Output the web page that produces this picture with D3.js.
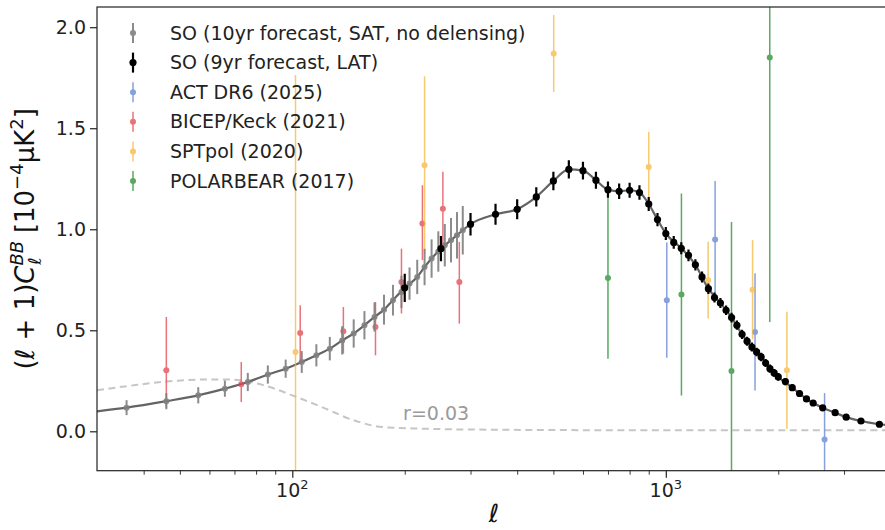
<!DOCTYPE html>
<html>
<head>
<meta charset="utf-8">
<script src="https://cdn.jsdelivr.net/npm/d3@7"></script>
<style>
  body { margin: 0; background: #fff; }
  text { font-family: "DejaVu Sans", sans-serif; }
</style>
</head>
<body>
<svg id="chart" width="885" height="530"></svg>
<script>
/* ---------- datos ---------- */

// SO SAT (10 años, sin delensing)
const SAT_L   = [36, 46, 56, 66, 76, 86, 96, 106, 116, 126, 136, 146, 156, 166, 176, 186, 196, 206, 216, 226, 236, 246, 256, 266, 276, 286];
const SAT_D   = [0.117, 0.149, 0.178, 0.211, 0.244, 0.281, 0.310, 0.343, 0.376, 0.409, 0.450, 0.484, 0.525, 0.566, 0.602, 0.649, 0.690, 0.731, 0.764, 0.813, 0.855, 0.890, 0.921, 0.946, 0.970, 0.995];
const SAT_ERR = [0.037, 0.040, 0.040, 0.040, 0.045, 0.045, 0.045, 0.054, 0.055, 0.058, 0.070, 0.070, 0.070, 0.072, 0.074, 0.076, 0.080, 0.080, 0.085, 0.090, 0.095, 0.100, 0.105, 0.110, 0.115, 0.120];

// SO LAT (9 años)
const LAT_L   = [200, 250, 300, 350, 400, 450, 500, 550, 600, 650, 700, 750, 800, 850, 900, 950, 1000, 1050, 1100, 1150, 1200, 1250, 1300, 1350, 1400, 1450, 1500, 1550, 1600, 1650, 1700, 1750, 1800, 1850, 1900, 1950, 2000, 2090, 2180, 2280, 2380, 2480, 2630, 2840, 3040, 3330, 3730];
const LAT_D   = [0.710, 0.904, 1.025, 1.074, 1.099, 1.160, 1.239, 1.296, 1.290, 1.243, 1.196, 1.188, 1.193, 1.182, 1.125, 1.048, 0.979, 0.935, 0.906, 0.871, 0.824, 0.764, 0.706, 0.662, 0.635, 0.599, 0.563, 0.525, 0.480, 0.446, 0.417, 0.393, 0.368, 0.338, 0.310, 0.289, 0.269, 0.246, 0.216, 0.187, 0.160, 0.140, 0.116, 0.092, 0.070, 0.051, 0.035];
const LAT_ERR = [0.070, 0.062, 0.056, 0.052, 0.050, 0.048, 0.046, 0.045, 0.044, 0.042, 0.040, 0.038, 0.037, 0.036, 0.035, 0.033, 0.032, 0.031, 0.030, 0.029, 0.028, 0.027, 0.026, 0.025, 0.025, 0.024, 0.024, 0.023, 0.023, 0.022, 0.022, 0.021, 0.021, 0.020, 0.020, 0.019, 0.019, 0.018, 0.017, 0.016, 0.015, 0.015, 0.014, 0.013, 0.012, 0.012, 0.011];

// ACT DR6 (2025)
const ACT_L   = [1006, 1355, 1733, 2661];
const ACT_D   = [0.649, 0.949, 0.492, -0.041];
const ACT_ERR = [0.285, 0.290, 0.290, 0.230];

// BICEP/Keck (2021) – barras asimétricas
const BK_L      = [46, 73, 105, 137, 167, 196, 223, 253, 280];
const BK_D      = [0.302, 0.233, 0.487, 0.495, 0.516, 0.739, 1.028, 1.102, 0.739];
const BK_ERR_LO = [0.185, 0.088, 0.152, 0.110, 0.140, 0.156, 0.181, 0.206, 0.206];
const BK_ERR_HI = [0.264, 0.110, 0.137, 0.120, 0.124, 0.165, 0.190, 0.182, 0.198];

// SPTpol (2020)
const SPT_L   = [102, 226, 501, 900, 1298, 1707, 2109];
const SPT_D   = [0.393, 1.317, 1.870, 1.308, 0.748, 0.701, 0.302];
const SPT_ERR = [1.370, 0.440, 0.190, 0.174, 0.190, 0.245, 0.290];

// POLARBEAR (2017)
const PB_L   = [700, 1101, 1499, 1898];
const PB_D   = [0.759, 0.677, 0.299, 1.850];
const PB_ERR = [0.400, 0.500, 0.737, 1.309];

// curva teórica de lensing
const LENS_L = [30, 36, 46, 56, 66, 76, 86, 96, 106, 116, 126, 136, 146, 156, 166, 176, 186, 200, 216, 226, 236, 250, 266, 286, 300, 350, 400, 450, 500, 550, 600, 650, 700, 750, 800, 850, 900, 950, 1000, 1100, 1200, 1300, 1400, 1500, 1600, 1700, 1800, 1900, 2000, 2180, 2380, 2630, 2840, 3040, 3330, 3730, 4000];
const LENS_D = [0.099, 0.117, 0.149, 0.178, 0.211, 0.244, 0.281, 0.310, 0.343, 0.376, 0.409, 0.450, 0.484, 0.525, 0.566, 0.602, 0.649, 0.710, 0.764, 0.813, 0.855, 0.904, 0.946, 0.995, 1.025, 1.074, 1.099, 1.160, 1.239, 1.296, 1.290, 1.243, 1.196, 1.188, 1.193, 1.182, 1.125, 1.048, 0.979, 0.906, 0.824, 0.706, 0.635, 0.563, 0.480, 0.417, 0.368, 0.310, 0.269, 0.216, 0.160, 0.116, 0.092, 0.070, 0.051, 0.035, 0.028];

// modo tensorial r = 0.03
const R_L = [30, 37, 47, 58, 68, 77, 87, 100, 120, 148, 174, 223, 336, 1000, 4000];
const R_D = [0.203, 0.226, 0.248, 0.256, 0.256, 0.244, 0.219, 0.178, 0.120, 0.051, 0.021, 0.013, 0.008, 0.005, 0.005];

const Y_TICKS  = [0, 0.5, 1.0, 1.5, 2.0];
const X_MAJOR  = [100, 1000];
const X_MINOR  = [40, 50, 60, 70, 80, 90, 200, 300, 400, 500, 600, 700, 800, 900, 2000, 3000];

/* ---------- series y estilos ---------- */
const SERIES = [
  { label: 'SO (10yr forecast, SAT, no delensing)', L: SAT_L, D: SAT_D, lo: SAT_ERR, hi: SAT_ERR, color: '#7f7f7f', op: 0.9, r: 3,   w: 2   },
  { label: 'SO (9yr forecast, LAT)',                L: LAT_L, D: LAT_D, lo: LAT_ERR, hi: LAT_ERR, color: '#000000', op: 1,   r: 3.6, w: 2.2 },
  { label: 'ACT DR6 (2025)',     L: ACT_L, D: ACT_D, lo: ACT_ERR,   hi: ACT_ERR,   color: '#7391d6', op: 0.85, r: 3, w: 1.5 },
  { label: 'BICEP/Keck (2021)',  L: BK_L,  D: BK_D,  lo: BK_ERR_LO, hi: BK_ERR_HI, color: '#e2444e', op: 0.75, r: 3, w: 1.5 },
  { label: 'SPTpol (2020)',      L: SPT_L, D: SPT_D, lo: SPT_ERR,   hi: SPT_ERR,   color: '#f4b740', op: 0.75, r: 3, w: 1.5 },
  { label: 'POLARBEAR (2017)',   L: PB_L,  D: PB_D,  lo: PB_ERR,    hi: PB_ERR,    color: '#3d9a45', op: 0.85, r: 3, w: 1.5 }
];

/* ---------- escalas ---------- */
const P = { left: 97, top: 7, right: 890.7, bottom: 470.7 };
const x = d3.scaleLog().domain([30, 4000]).range([P.left, P.right]);
const y = d3.scaleLinear().domain([-0.195, 2.1]).range([P.bottom, P.top]);

const svg = d3.select('#chart');

svg.append('clipPath').attr('id', 'clip')
  .append('rect')
    .attr('x', P.left).attr('y', P.top)
    .attr('width', P.right - P.left).attr('height', P.bottom - P.top);

const plot = svg.append('g').attr('clip-path', 'url(#clip)');

/* ---------- curvas ---------- */
const line = d3.line()
  .x(d => x(d[0]))
  .y(d => y(d[1]))
  .curve(d3.curveMonotoneX);

plot.append('path')
  .attr('d', line(d3.zip(R_L, R_D)))
  .attr('fill', 'none')
  .attr('stroke', '#c6c6c6')
  .attr('stroke-width', 2)
  .attr('stroke-dasharray', '7,4.5');

plot.append('path')
  .attr('d', line(d3.zip(LENS_L, LENS_D)))
  .attr('fill', 'none')
  .attr('stroke', '#646464')
  .attr('stroke-width', 2.2);

/* ---------- barras de error (experimentos primero, SO encima) ---------- */
const order = [2, 3, 4, 5, 0, 1];
order.forEach(i => {
  const s = SERIES[i];
  const rows = s.L.map((l, k) => ({ l, d: s.D[k], lo: s.lo[k], hi: s.hi[k] }));
  const g = plot.append('g').attr('opacity', s.op);
  g.selectAll('line')
    .data(rows)
    .join('line')
      .attr('x1', d => x(d.l)).attr('x2', d => x(d.l))
      .attr('y1', d => y(d.d - d.lo)).attr('y2', d => y(d.d + d.hi))
      .attr('stroke', s.color)
      .attr('stroke-width', s.w);
  g.selectAll('circle')
    .data(rows)
    .join('circle')
      .attr('cx', d => x(d.l)).attr('cy', d => y(d.d))
      .attr('r', s.r)
      .attr('fill', s.color);
});

/* ---------- etiqueta r=0.03 ---------- */
svg.append('text')
  .attr('x', x(198)).attr('y', y(0.055))
  .attr('font-size', 19)
  .attr('fill', '#9a9a9a')
  .text('r=0.03');

/* ---------- ejes ---------- */
const yAxis = svg.append('g')
  .attr('transform', `translate(${P.left},0)`)
  .call(d3.axisLeft(y).tickValues(Y_TICKS).tickSize(7).tickPadding(4).tickFormat(d3.format('.1f')));
yAxis.select('.domain').remove();
yAxis.selectAll('text').attr('font-size', 19).attr('fill', '#222').style('font-family', '"DejaVu Sans", sans-serif');
yAxis.selectAll('line').attr('stroke', '#222').attr('stroke-width', 1.2);

const xMinor = svg.append('g')
  .attr('transform', `translate(0,${P.bottom})`)
  .call(d3.axisBottom(x).tickValues(X_MINOR).tickSize(4).tickFormat(''));
xMinor.select('.domain').remove();
xMinor.selectAll('line').attr('stroke', '#222').attr('stroke-width', 0.9);

const xMajor = svg.append('g')
  .attr('transform', `translate(0,${P.bottom})`)
  .call(d3.axisBottom(x).tickValues(X_MAJOR).tickSize(7).tickFormat(''));
xMajor.select('.domain').remove();
xMajor.selectAll('line').attr('stroke', '#222').attr('stroke-width', 1.2);

const xl = svg.append('g').selectAll('text')
  .data(X_MAJOR)
  .join('text')
    .attr('x', d => x(d))
    .attr('y', P.bottom + 26)
    .attr('text-anchor', 'middle')
    .attr('font-size', 19)
    .attr('fill', '#222');
xl.append('tspan').text('10');
xl.append('tspan').attr('font-size', 13).attr('dy', -8).text(d => Math.round(Math.log10(d)));

// marco
svg.append('rect')
  .attr('x', P.left).attr('y', P.top)
  .attr('width', P.right - P.left).attr('height', P.bottom - P.top)
  .attr('fill', 'none')
  .attr('stroke', '#222')
  .attr('stroke-width', 1.2);

/* ---------- títulos de ejes ---------- */
svg.append('text')
  .attr('x', (P.left + P.right) / 2)
  .attr('y', 522)
  .attr('text-anchor', 'middle')
  .attr('font-size', 25)
  .attr('font-style', 'italic')
  .attr('fill', '#111')
  .text('ℓ');

const yl = svg.append('text')
  .attr('transform', `translate(34,${(P.top + P.bottom) / 2}) rotate(-90)`)
  .attr('text-anchor', 'middle')
  .attr('font-size', 26)
  .attr('fill', '#111');
yl.append('tspan').text('(');
yl.append('tspan').attr('font-style', 'italic').text('ℓ');
yl.append('tspan').text(' + 1)');
yl.append('tspan').attr('font-style', 'italic').text('C');
yl.append('tspan').attr('font-size', 18).attr('font-style', 'italic').attr('dy', -11).text('BB');
yl.append('tspan').attr('font-size', 18).attr('font-style', 'italic').attr('dx', -24).attr('dy', 18).text('ℓ');
yl.append('tspan').attr('dx', 16).attr('dy', -7).text(' [10');
yl.append('tspan').attr('font-size', 18).attr('dy', -11).text('−4');
yl.append('tspan').attr('dy', 11).text('μK');
yl.append('tspan').attr('font-size', 18).attr('dy', -11).text('2');
yl.append('tspan').attr('dy', 11).text(']');

/* ---------- leyenda ---------- */
const leg = svg.append('g');
SERIES.forEach((s, i) => {
  const cy = 33 + i * 29.6;
  const g = leg.append('g').attr('opacity', s.op);
  g.append('line')
    .attr('x1', 133).attr('x2', 133)
    .attr('y1', cy - 10).attr('y2', cy + 10)
    .attr('stroke', s.color).attr('stroke-width', s.w);
  g.append('circle').attr('cx', 133).attr('cy', cy).attr('r', s.r).attr('fill', s.color);
  leg.append('text')
    .attr('x', 170).attr('y', cy)
    .attr('dy', '0.35em')
    .attr('font-size', 19)
    .attr('fill', '#222')
    .text(s.label);
});
</script>
</body>
</html>
